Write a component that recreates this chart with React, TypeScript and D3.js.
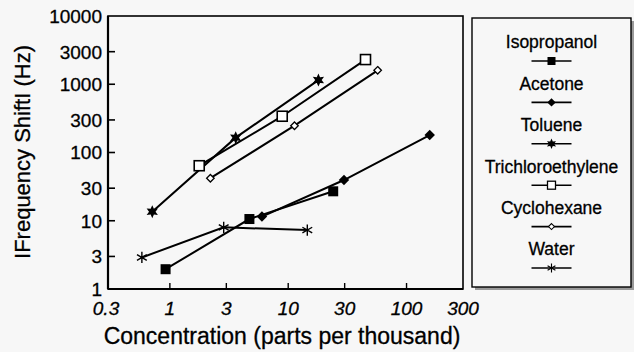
import React from 'react';
import * as d3 from 'd3';

// values (x: parts per thousand, y: |frequency shift| Hz)
const isopropanol = [[0.92, 1.95], [4.7, 10.6], [24, 27]];
const acetone = [[6.0, 11.5], [29.6, 39.5], [157, 180]];
const toluene = [[0.71, 13.6], [3.6, 165], [18, 1150]];
const trichloro = [[1.77, 64], [8.9, 340], [45, 2300]];
const cyclohexane = [[2.2, 42], [11.3, 247], [57, 1600]];
const water = [[0.58, 2.9], [2.85, 8.0], [14.5, 7.3]];

const seriesNames = ['Isopropanol', 'Acetone', 'Toluene', 'Trichloroethylene', 'Cyclohexane', 'Water'];
const seriesData = [isopropanol, acetone, toluene, trichloro, cyclohexane, water];

const xTicks = [0.3, 1, 3, 10, 30, 100, 300];
const yTicks = [1, 3, 10, 30, 100, 300, 1000, 3000, 10000];

const W = 634;
const H = 352;
const plot = { left: 108, right: 463, top: 16, bottom: 289 };
const font = "'Liberation Sans', Arial, sans-serif";

// six-pointed star for toluene
const star6 = (r: number) => {
  const pts: string[] = [];
  for (let i = 0; i < 12; i++) {
    const a = (Math.PI / 6) * i - Math.PI / 2;
    const rr = i % 2 === 0 ? r : r * 0.5;
    pts.push(`${(rr * Math.cos(a)).toFixed(2)},${(rr * Math.sin(a)).toFixed(2)}`);
  }
  return 'M' + pts.join('L') + 'Z';
};

const marker = (i: number) => {
  switch (i) {
    case 0:
      return <rect x={-5} y={-5} width={10} height={10} fill='#000' />;
    case 1:
      return <path d={d3.symbol(d3.symbolDiamond2, 70)()!} fill='#000' />;
    case 2:
      return <path d={star6(6.5)} fill='#000' />;
    case 3:
      return <rect x={-5} y={-5} width={10} height={10} fill='#fff' stroke='#000' strokeWidth={1.6} />;
    case 4:
      return <path d={d3.symbol(d3.symbolDiamond2, 36)()!} fill='#fff' stroke='#000' strokeWidth={1.3} />;
    default:
      return <path d={d3.symbol(d3.symbolAsterisk, 90)()!} fill='none' stroke='#000' strokeWidth={1.4} />;
  }
};

const txt = { fontFamily: font, fill: '#000', stroke: '#000', strokeWidth: 0.3 };

export default function App() {
  const x = d3.scaleLog().domain([0.3, 300]).range([plot.left, plot.right]);
  const y = d3.scaleLog().domain([1, 10000]).range([plot.bottom, plot.top]);
  const line = d3.line<number[]>().x(d => x(d[0])).y(d => y(d[1]));

  const legend = { left: 472, top: 18, right: 631, bottom: 287 };
  const legendCx = 551.5;

  return (
    <div style={{ position: 'fixed', left: 0, top: 0 }}>
      <svg width={W} height={H} style={{ display: 'block' }}>
        <rect width={W} height={H} fill='#f7f7f7' />

        {/* plot frame */}
        <rect x={plot.left} y={plot.top} width={plot.right - plot.left} height={plot.bottom - plot.top}
          fill='none' stroke='#000' strokeWidth={1.6} />
        <line x1={plot.left} x2={plot.left} y1={plot.top} y2={plot.bottom} stroke='#000' strokeWidth={2.2} />
        <line x1={plot.left} x2={plot.right} y1={plot.bottom} y2={plot.bottom} stroke='#000' strokeWidth={2.2} />

        {/* y ticks */}
        {yTicks.map(t => (
          <g key={'y' + t}>
            {t !== 1 && t !== 10000 && (
              <line x1={plot.left} x2={plot.left + 7} y1={y(t)} y2={y(t)} stroke='#000' strokeWidth={1.6} />
            )}
            <text x={102} y={y(t)} dy='0.36em' textAnchor='end' fontSize={19} {...txt}>{t}</text>
          </g>
        ))}

        {/* x ticks */}
        {xTicks.map(t => (
          <g key={'x' + t}>
            {t !== 0.3 && t !== 300 && (
              <line x1={x(t)} x2={x(t)} y1={plot.bottom} y2={plot.bottom - 6} stroke='#000' strokeWidth={1.4} />
            )}
            <text x={t === 0.3 ? x(t) - 2 : x(t)} y={315} textAnchor='middle' fontSize={19}
              fontStyle='italic' {...txt}>{t}</text>
          </g>
        ))}

        {/* axis titles */}
        <text x={282} y={344} textAnchor='middle' fontSize={23} {...txt}>
          Concentration (parts per thousand)
        </text>
        <text transform='translate(30,152) rotate(-90)' textAnchor='middle' fontSize={22} {...txt}>
          IFrequency ShiftI (Hz)
        </text>

        {/* series */}
        {seriesData.map((s, i) => (
          <g key={seriesNames[i]}>
            <path d={line(s)!} fill='none' stroke='#000' strokeWidth={2} />
            {s.map((d, j) => (
              <g key={j} transform={`translate(${x(d[0])},${y(d[1])})`}>{marker(i)}</g>
            ))}
          </g>
        ))}

        {/* legend */}
        <rect x={legend.left + 3} y={legend.top + 3} width={legend.right - legend.left} height={legend.bottom - legend.top}
          fill='#9a9a9a' />
        <rect x={legend.left} y={legend.top} width={legend.right - legend.left} height={legend.bottom - legend.top}
          fill='#f7f7f7' stroke='#000' strokeWidth={1.4} />
        {seriesNames.map((n, i) => {
          const ty = 42 + i * 41.4;
          const my = ty + 19;
          return (
            <g key={n}>
              <text x={legendCx} y={ty} dy='0.36em' textAnchor='middle' fontSize={17.5} {...txt}>{n}</text>
              <line x1={legendCx - 20} x2={legendCx + 20} y1={my} y2={my} stroke='#000' strokeWidth={1.6} />
              <g transform={`translate(${legendCx},${my}) scale(0.8)`}>{marker(i)}</g>
            </g>
          );
        })}
      </svg>
    </div>
  );
}
